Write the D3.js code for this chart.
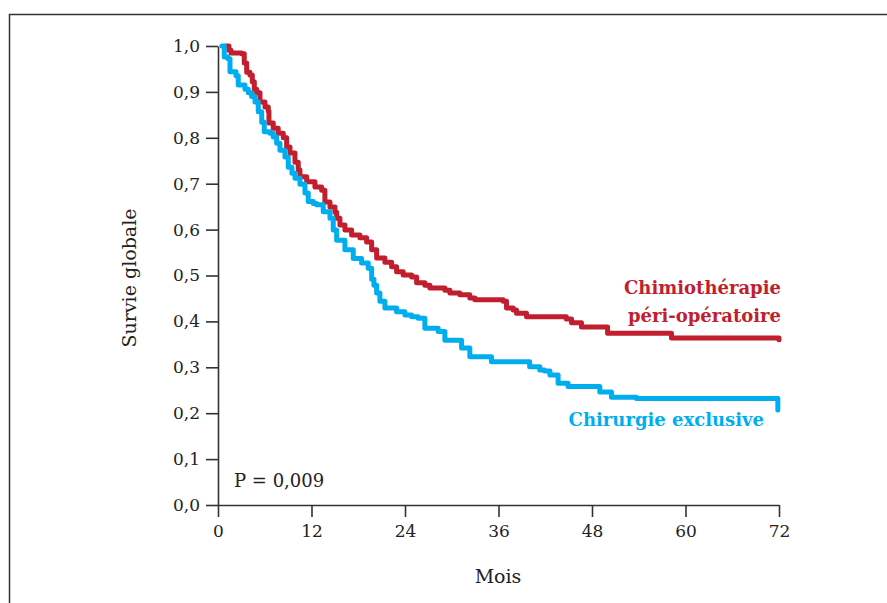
<!DOCTYPE html>
<html>
<head>
<meta charset="utf-8">
<script src="https://cdn.jsdelivr.net/npm/d3@7"></script>
<style>
  body { margin: 0; background: #fff; }
  text { font-family: "DejaVu Serif", serif; }
</style>
</head>
<body>
<svg id="chart"></svg>
<script>
// courbes de survie (mois, survie)
const chimioMois = [1.0, 1.41, 1.67, 3.04, 3.37, 3.68, 4.10, 4.40, 4.66, 4.96, 5.39, 6.03, 6.45, 6.54, 7.09, 7.73, 8.38, 8.81, 9.24, 9.88, 10.30, 10.52, 11.38, 12.44, 13.30, 13.72, 14.37, 15.01, 15.23, 15.65, 16.29, 17.15, 18.21, 19.07, 19.72, 20.36, 21.42, 22.28, 22.92, 23.77, 24.85, 25.49, 26.55, 27.19, 29.12, 29.76, 31.04, 32.32, 32.97, 36.6, 37.03, 37.88, 38.31, 39.6, 44.7, 45.37, 46.65, 50.0, 58.2, 72]
const chimioSurvie = [1.0, 0.991, 0.985, 0.983, 0.963, 0.943, 0.937, 0.922, 0.906, 0.898, 0.878, 0.867, 0.858, 0.832, 0.821, 0.810, 0.800, 0.780, 0.767, 0.747, 0.730, 0.715, 0.704, 0.693, 0.686, 0.660, 0.649, 0.638, 0.625, 0.610, 0.599, 0.588, 0.582, 0.573, 0.556, 0.538, 0.529, 0.519, 0.508, 0.501, 0.497, 0.484, 0.479, 0.473, 0.468, 0.462, 0.458, 0.451, 0.447, 0.444, 0.429, 0.425, 0.418, 0.410, 0.405, 0.397, 0.388, 0.374, 0.364, 0.360]

const chirMois = [0.5, 0.81, 1.28, 1.54, 2.31, 2.60, 3.46, 3.89, 4.32, 4.75, 5.17, 5.61, 5.94, 6.67, 7.09, 7.53, 7.95, 8.59, 9.02, 9.49, 9.88, 10.52, 11.16, 11.58, 12.22, 12.66, 13.51, 14.37, 14.79, 15.23, 16.29, 17.36, 18.43, 19.28, 19.72, 20.01, 20.36, 20.78, 21.42, 22.92, 23.99, 24.85, 25.69, 26.55, 28.26, 29.12, 31.26, 32.32, 35.1, 40.0, 41.3, 41.9, 42.6, 43.65, 44.93, 49.0, 50.5, 53.7, 71.85]
const chirSurvie = [1.0, 0.976, 0.972, 0.944, 0.935, 0.915, 0.906, 0.898, 0.890, 0.878, 0.857, 0.834, 0.813, 0.810, 0.802, 0.788, 0.773, 0.758, 0.736, 0.723, 0.712, 0.699, 0.680, 0.661, 0.657, 0.654, 0.639, 0.625, 0.599, 0.577, 0.556, 0.537, 0.527, 0.516, 0.492, 0.479, 0.462, 0.444, 0.429, 0.421, 0.414, 0.410, 0.407, 0.385, 0.378, 0.359, 0.342, 0.323, 0.312, 0.301, 0.294, 0.292, 0.283, 0.265, 0.258, 0.246, 0.235, 0.232, 0.207]

const xTicks = [0, 12, 24, 36, 48, 60, 72]
const yTicks = [0, 0.1, 0.2, 0.3, 0.4, 0.5, 0.6, 0.7, 0.8, 0.9, 1.0]

const rouge = "#c11f2f"
const bleu = "#00aeef"

const svg = d3.select("#chart")
    .attr("width", 887)
    .attr("height", 603)

// cadre
svg.append("rect")
    .attr("x", 9.5)
    .attr("y", 14.5)
    .attr("width", 950)
    .attr("height", 700)
    .attr("fill", "none")
    .attr("stroke", "#333")
    .attr("stroke-width", 1.5)

const x = d3.scaleLinear().domain([0, 72]).range([218, 779])
const y = d3.scaleLinear().domain([0, 1]).range([505, 46])

const fmt = d => d.toFixed(1).replace(".", ",")

const gx = svg.append("g")
    .attr("transform", "translate(0,505)")
    .call(d3.axisBottom(x).tickValues(xTicks).tickSize(12).tickSizeOuter(0).tickPadding(8))
const gy = svg.append("g")
    .attr("transform", "translate(218,0)")
    .call(d3.axisLeft(y).tickValues(yTicks).tickFormat(fmt).tickSize(12).tickSizeOuter(0).tickPadding(6))

for (const g of [gx, gy]) {
    g.select(".domain").attr("stroke", "#333").attr("stroke-width", 1.6)
    g.selectAll(".tick line").attr("stroke", "#333").attr("stroke-width", 1.6)
    g.selectAll(".tick text")
        .attr("fill", "#222")
        .style("font-family", "DejaVu Serif")
        .style("font-size", "17px")
}

const ligne = d3.line()
    .x(d => x(d[0]))
    .y(d => y(d[1]))
    .curve(d3.curveStepAfter)

const series = [
    { mois: chimioMois, survie: chimioSurvie, couleur: rouge },
    { mois: chirMois, survie: chirSurvie, couleur: bleu }
]

for (const s of series) {
    const pts = s.mois.map((m, i) => [m, s.survie[i]])
    svg.append("path")
        .datum(pts)
        .attr("d", ligne)
        .attr("fill", "none")
        .attr("stroke", s.couleur)
        .attr("stroke-width", 5)
        .attr("stroke-linejoin", "round")
        .attr("stroke-linecap", "round")
}

// titres d'axes
svg.append("text")
    .attr("x", 498)
    .attr("y", 583)
    .attr("text-anchor", "middle")
    .attr("fill", "#222")
    .style("font-size", "19px")
    .text("Mois")

svg.append("text")
    .attr("transform", "translate(136,278) rotate(-90)")
    .attr("text-anchor", "middle")
    .attr("fill", "#222")
    .style("font-size", "19px")
    .text("Survie globale")

svg.append("text")
    .attr("x", 234)
    .attr("y", 487)
    .attr("fill", "#222")
    .style("font-size", "18px")
    .text("P = 0,009")

// légendes
const leg = [
    { txt: "Chimiothérapie", x: 781, y: 294, c: rouge },
    { txt: "péri-opératoire", x: 781, y: 322, c: rouge },
    { txt: "Chirurgie exclusive", x: 764, y: 426, c: bleu }
]
svg.selectAll(".leg")
    .data(leg)
    .enter().append("text")
    .attr("class", "leg")
    .attr("x", d => d.x)
    .attr("y", d => d.y)
    .attr("text-anchor", "end")
    .attr("fill", d => d.c)
    .style("font-size", "18px")
    .style("font-weight", "bold")
    .text(d => d.txt)
</script>
</body>
</html>
